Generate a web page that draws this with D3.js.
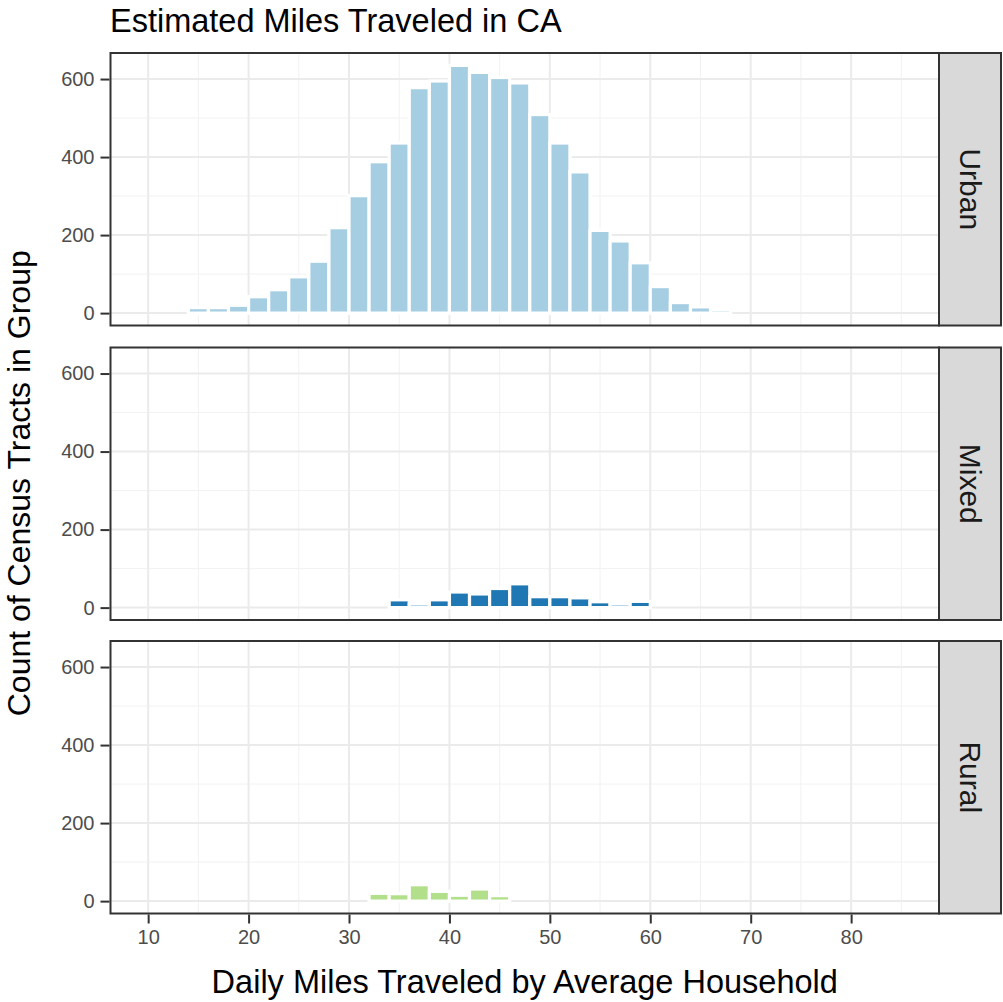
<!DOCTYPE html>
<html>
<head>
<meta charset="utf-8">
<script src="https://cdn.jsdelivr.net/npm/d3@7"></script>
<style>
  body { margin: 0; background: #fff; }
  svg { display: block; font-family: "Liberation Sans", Arial, sans-serif; }
</style>
</head>
<body>
<svg id="chart" width="1003" height="1002"></svg>
<script>
// ---- data ----
const title = "Estimated Miles Traveled in CA";
const xTitle = "Daily Miles Traveled by Average Household";
const yTitle = "Count of Census Tracts in Group";
const groups = ["Urban", "Mixed", "Rural"];
const groupColors = ["#a6cee3", "#1f78b4", "#b2df8a"];
// histogram bin centres (bin width 2 miles)
const binCenters = [11,13,15,17,19,21,23,25,27,29,31,33,35,37,39,41,43,45,47,49,51,53,55,57,59,61,63,65,67,69,71,73,75,77,79,81,83];
const urbanCounts = [0,0,14,14,20,42,60,93,133,219,301,388,436,578,595,635,617,604,590,509,436,362,212,185,129,68,27,16,9,0,0,0,0,0,0,0,0];
const mixedCounts = [0,0,0,0,0,0,0,0,0,0,0,0,20,9,20,40,35,49,61,28,28,25,15,9,16,0,0,0,0,0,0,0,0,0,0,0,0];
const ruralCounts = [0,0,0,0,0,0,0,0,0,0,0,20,19,42,25,15,31,14,0,0,0,0,0,0,0,0,0,0,0,0,0,0,0,0,0,0,0];
const binWidth = 2;
const xTicks = [10,20,30,40,50,60,70,80];
const xMinor = [15,25,35,45,55,65,75,85];
const yTicks = [0,200,400,600];
const yMinor = [100,300,500];

const seriesCounts = [urbanCounts, mixedCounts, ruralCounts];

// ---- layout ----
const svg = d3.select("#chart");
const panelLeft = 110.5, panelRight = 939, stripRight = 1001;
const panelTops = [53, 347.5, 641];
const panelH = 272.5;

const x = d3.scaleLinear().domain([6.25, 88.75]).range([panelLeft, panelRight]);
const yMax = d3.max(urbanCounts);
const yDomain = [-0.05 * yMax, yMax * 1.05];

svg.append("text")
  .attr("x", 110).attr("y", 32)
  .attr("font-size", 32.5).attr("fill", "#000")
  .text(title);

groups.forEach((g, i) => {
  const top = panelTops[i];
  const y = d3.scaleLinear().domain(yDomain).range([top + panelH, top]);
  const gp = svg.append("g");

  gp.append("rect").attr("x", panelLeft).attr("y", top)
    .attr("width", panelRight - panelLeft).attr("height", panelH).attr("fill", "#fff");

  // minor grid
  gp.selectAll(".ymin").data(yMinor).join("line")
    .attr("x1", panelLeft).attr("x2", panelRight)
    .attr("y1", d => y(d)).attr("y2", d => y(d))
    .attr("stroke", "#f2f2f2").attr("stroke-width", 1);
  gp.selectAll(".xmin").data(xMinor).join("line")
    .attr("y1", top).attr("y2", top + panelH)
    .attr("x1", d => x(d)).attr("x2", d => x(d))
    .attr("stroke", "#f2f2f2").attr("stroke-width", 1);
  // major grid
  gp.selectAll(".ymaj").data(yTicks).join("line")
    .attr("x1", panelLeft).attr("x2", panelRight)
    .attr("y1", d => y(d)).attr("y2", d => y(d))
    .attr("stroke", "#ebebeb").attr("stroke-width", 2);
  gp.selectAll(".xmaj").data(xTicks).join("line")
    .attr("y1", top).attr("y2", top + panelH)
    .attr("x1", d => x(d)).attr("x2", d => x(d))
    .attr("stroke", "#ebebeb").attr("stroke-width", 2);

  // bars
  const counts = seriesCounts[i];
  gp.selectAll(".bar").data(binCenters.map((c, k) => ({c, n: counts[k]}))).join("rect")
    .attr("x", d => x(d.c - binWidth / 2))
    .attr("width", d => x(d.c + binWidth / 2) - x(d.c - binWidth / 2))
    .attr("y", d => y(d.n))
    .attr("height", d => y(0) - y(d.n))
    .attr("fill", groupColors[i])
    .attr("stroke", "#fff").attr("stroke-width", 3.2);

  // border
  gp.append("rect").attr("x", panelLeft).attr("y", top)
    .attr("width", panelRight - panelLeft).attr("height", panelH)
    .attr("fill", "none").attr("stroke", "#333").attr("stroke-width", 2);

  // y axis
  const ax = gp.append("g").attr("transform", `translate(${panelLeft - 1},0)`)
    .call(d3.axisLeft(y).tickValues(yTicks).tickSize(9).tickPadding(6).tickFormat(d3.format("d")));
  ax.select(".domain").remove();
  ax.selectAll(".tick line").attr("stroke", "#333").attr("stroke-width", 2);
  ax.selectAll(".tick text").attr("fill", "#4d4d4d").attr("font-size", 20)
    .attr("font-family", "Liberation Sans, Arial, sans-serif");

  // strip
  gp.append("rect").attr("x", panelRight).attr("y", top)
    .attr("width", stripRight - panelRight).attr("height", panelH)
    .attr("fill", "#d9d9d9").attr("stroke", "#333").attr("stroke-width", 2);
  const cx = (panelRight + stripRight) / 2, cy = top + panelH / 2;
  gp.append("text")
    .attr("transform", `translate(${cx},${cy}) rotate(90)`)
    .attr("text-anchor", "middle").attr("dominant-baseline", "central")
    .attr("font-size", 30).attr("fill", "#1a1a1a")
    .text(g);
});

// x axis (bottom panel)
const bottom = panelTops[2] + panelH;
const xa = svg.append("g").attr("transform", `translate(0,${bottom + 1})`)
  .call(d3.axisBottom(x).tickValues(xTicks).tickSize(9).tickPadding(6));
xa.select(".domain").remove();
xa.selectAll(".tick line").attr("stroke", "#333").attr("stroke-width", 2);
xa.selectAll(".tick text").attr("fill", "#4d4d4d").attr("font-size", 20)
  .attr("font-family", "Liberation Sans, Arial, sans-serif");

svg.append("text")
  .attr("x", (panelLeft + panelRight) / 2).attr("y", 993)
  .attr("text-anchor", "middle").attr("font-size", 32.5).attr("fill", "#000")
  .text(xTitle);

svg.append("text")
  .attr("transform", `translate(30,${(panelTops[0] + panelTops[2] + panelH) / 2}) rotate(-90)`)
  .attr("text-anchor", "middle").attr("font-size", 32).attr("fill", "#000")
  .text(yTitle);
</script>
</body>
</html>
